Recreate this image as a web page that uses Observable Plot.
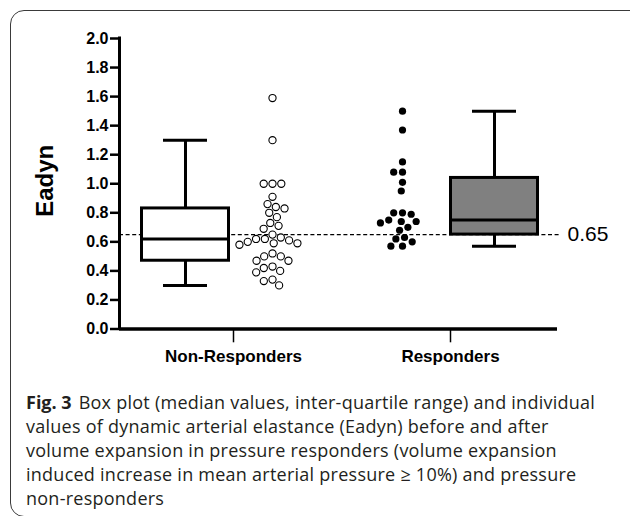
<!DOCTYPE html>
<html>
<head>
<meta charset="utf-8">
<script src="https://cdn.jsdelivr.net/npm/d3@7"></script>
<script src="https://cdn.jsdelivr.net/npm/@observablehq/plot@0.6"></script>
<style>
  html, body { margin: 0; padding: 0; background: #fff; }
  #wrap { position: relative; width: 630px; height: 516px; overflow: hidden; background: #fff; }
  #frame { position: absolute; left: 10px; top: 10px; width: 650px; height: 507px;
           border: 1.3px solid #3a3a3a; border-radius: 14px; box-sizing: border-box; }
  #chart { position: absolute; left: 0; top: 0; }
  #caption { position: absolute; left: 26px; top: 390px; font-family: "Open Sans", sans-serif;
             font-size: 18px; line-height: 24px; color: #231f20; white-space: nowrap; letter-spacing: 0.25px; }
  #caption b { font-weight: 700; margin-right: 7px; letter-spacing: 0; }
</style>
</head>
<body>
<div id="wrap">
  <div id="frame"></div>
  <div id="chart"></div>
  <div id="caption"></div>
</div>
<script>
// ---- data ----
const groups = ["Non-Responders", "Responders"];
const nrValues = [1.59, 1.30, 1.00, 1.00, 1.00, 0.91, 0.86, 0.84, 0.83, 0.80, 0.77, 0.73, 0.71, 0.69, 0.65,
                  0.63, 0.62, 0.62, 0.61, 0.60, 0.59, 0.59, 0.58, 0.52, 0.50, 0.50, 0.47, 0.47,
                  0.43, 0.42, 0.40, 0.39, 0.34, 0.33, 0.30];
const rValues = [1.50, 1.37, 1.15, 1.08, 1.08, 1.01, 0.95, 0.80, 0.80, 0.79, 0.75, 0.74, 0.74, 0.73,
                 0.70, 0.68, 0.63, 0.62, 0.60, 0.57, 0.57];
const boxLo  = [0.30, 0.57];
const boxQ1  = [0.47, 0.65];
const boxMed = [0.62, 0.75];
const boxQ3  = [0.83, 1.04];
const boxHi  = [1.30, 1.50];
const boxFill = ["#ffffff", "#808080"];
const yTicks = [0, 0.2, 0.4, 0.6, 0.8, 1.0, 1.2, 1.4, 1.6, 1.8, 2.0];
const cutoff = 0.65;
const yLabel = "Eadyn";
const captionTitle = "Fig. 3";
const captionLines = [
  "Box plot (median values, inter-quartile range) and individual",
  "values of dynamic arterial elastance (Eadyn) before and after",
  "volume expansion in pressure responders (volume expansion",
  "induced increase in mean arterial pressure \u2265 10%) and pressure",
  "non-responders"
];

// ---- layout ----
const W = 630, H = 372, mL = 119, mR = 73, mT = 38, mB = 43.5;
const boxX = [185, 494], dotsX = [272, 402], groupTickX = [233, 450];
const boxHalf = 43.5, capHalf = 22, dotR = 3.6, dotGap = 8.8;

const yPix = v => mT + (2 - v) / 2 * (H - mT - mB);
function swarm(values, D) {
  const placed = [];
  return values.map(v => {
    const y = yPix(v);
    const cands = [0];
    for (const p of placed) {
      const dy = Math.abs(p.y - y);
      if (dy < D) { const dx = Math.sqrt(D * D - dy * dy); cands.push(p.x + dx, p.x - dx); }
    }
    cands.sort((a, b) => Math.abs(a) - Math.abs(b) || a - b);
    const best = cands.find(c => placed.every(p => (p.x - c) ** 2 + (p.y - y) ** 2 >= D * D - 1e-6));
    placed.push({x: best, y});
    return best;
  });
}
const nrOff = swarm(nrValues, dotGap);
const rOff = swarm(rValues, dotGap);
const nrData = nrValues.map((v, i) => ({x: dotsX[0] + nrOff[i], y: v}));
const rData = rValues.map((v, i) => ({x: dotsX[1] + rOff[i], y: v}));
const boxData = groups.map((g, i) => ({g, x: boxX[i], lo: boxLo[i], q1: boxQ1[i], med: boxMed[i], q3: boxQ3[i], hi: boxHi[i], fill: boxFill[i]}));
const tickData = groups.map((g, i) => ({g, x: groupTickX[i]}));

const plot = Plot.plot({
  width: W, height: H,
  marginLeft: mL, marginRight: mR, marginTop: mT, marginBottom: mB,
  x: {domain: [mL, W - mR], axis: null},
  y: {domain: [0, 2], axis: null},
  style: {fontFamily: "'Liberation Sans', Arial, sans-serif", overflow: "visible", background: "transparent"},
  marks: [
    Plot.ruleY([cutoff], {x1: mL, x2: 561, stroke: "#000", strokeWidth: 1.2, strokeDasharray: "4,2.6"}),
    Plot.ruleX(boxData, {x: "x", y1: "q3", y2: "hi", strokeWidth: 3}),
    Plot.ruleX(boxData, {x: "x", y1: "lo", y2: "q1", strokeWidth: 3}),
    Plot.ruleY(boxData, {y: "hi", x1: d => d.x - capHalf, x2: d => d.x + capHalf, strokeWidth: 3}),
    Plot.ruleY(boxData, {y: "lo", x1: d => d.x - capHalf, x2: d => d.x + capHalf, strokeWidth: 3}),
    Plot.rect(boxData, {x1: d => d.x - boxHalf, x2: d => d.x + boxHalf, y1: "q1", y2: "q3", fill: "fill", stroke: "#000", strokeWidth: 3}),
    Plot.ruleY(boxData, {y: "med", x1: d => d.x - boxHalf, x2: d => d.x + boxHalf, strokeWidth: 3}),
    Plot.dot(nrData, {x: "x", y: "y", r: dotR, fill: "#fff", stroke: "#000", strokeWidth: 1.1}),
    Plot.dot(rData, {x: "x", y: "y", r: dotR, fill: "#000", stroke: "none"}),
    // axes
    Plot.ruleX([mL], {y1: 0, y2: 2, strokeWidth: 3, strokeLinecap: "square"}),
    Plot.ruleY([0], {x1: mL, x2: W - mR, strokeWidth: 3.5}),
    Plot.ruleY(yTicks, {y: d => d, x1: mL - 9, x2: mL, strokeWidth: 2.5}),
    Plot.text(yTicks, {y: d => d, x: mL - 11, text: d => d.toFixed(1), textAnchor: "end", fontWeight: "bold", fontSize: 16, fill: "#000"}),
    Plot.ruleX(tickData, {x: "x", y1: 0, y2: -0.095, strokeWidth: 1.5}),
    Plot.text(tickData, {x: "x", y: 0, dy: 28, text: "g", fontWeight: "bold", fontSize: 17, fill: "#000"}),
    Plot.text([yLabel], {x: 45, y: 1.02, text: d => d, rotate: -90, fontWeight: "bold", fontSize: 24, fill: "#000"}),
    Plot.text([cutoff], {x: 567, y: d => d, text: d => d.toFixed(2), textAnchor: "start", fontSize: 21, fill: "#000"})
  ]
});
document.getElementById("chart").appendChild(plot);

const cap = document.getElementById("caption");
cap.innerHTML = "";
captionLines.forEach((line, i) => {
  const div = document.createElement("div");
  if (i === 0) { const b = document.createElement("b"); b.textContent = captionTitle; div.appendChild(b); }
  div.appendChild(document.createTextNode(line));
  cap.appendChild(div);
});
</script>
</body>
</html>
